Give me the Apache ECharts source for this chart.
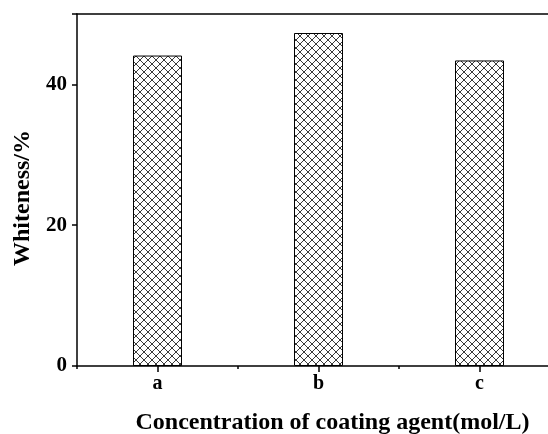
<!DOCTYPE html>
<html>
<head>
<meta charset="utf-8">
<style>
  html, body { margin: 0; padding: 0; background: #fff; }
  #chart { width: 548px; height: 434px; }
</style>
<script src="https://cdn.jsdelivr.net/npm/echarts@6/dist/echarts.min.js"></script>
</head>
<body>
<div id="chart"></div>
<script>
// Whiteness for each coating-agent concentration
const categories = ['a', 'b', 'c'];
const whiteness = [44.1, 47.3, 43.4];
const yTicks = [0, 20, 40];

// Cross-hatch tile used as the bar fill
function hatchTile() {
  const s = 8;
  const c = document.createElement('canvas');
  c.width = s; c.height = s;
  const g = c.getContext('2d');
  g.fillStyle = '#ffffff';
  g.fillRect(0, 0, s, s);
  g.strokeStyle = '#3a3a3a';
  g.lineWidth = 1;
  g.beginPath();
  g.moveTo(0, 0); g.lineTo(s, s);
  g.moveTo(s, 0); g.lineTo(0, s);
  g.stroke();
  return c;
}

const font = '"Liberation Serif", "Times New Roman", serif';
const chart = echarts.init(document.getElementById('chart'), null, { renderer: 'canvas' });

chart.setOption({
  animation: false,
  backgroundColor: '#ffffff',
  grid: { left: 77, top: 14, right: -12, bottom: 68, containLabel: false, outerBoundsMode: 'none' },
  xAxis: [{
    type: 'category',
    data: categories,
    position: 'bottom',
    axisLine: { lineStyle: { color: '#000', width: 1.5 } },
    axisTick: { show: true, alignWithLabel: true, length: 6, lineStyle: { color: '#000', width: 1.5 } },
    axisLabel: { color: '#000', fontFamily: font, fontWeight: 'bold', fontSize: 20, margin: 8 },
    name: 'Concentration of coating agent(mol/L)',
    nameLocation: 'middle',
    nameGap: 45,
    nameTextStyle: { color: '#000', fontFamily: font, fontWeight: 'bold', fontSize: 24, padding: [0, 0, 0, 28] }
  }, {
    // short ticks on the category boundaries
    type: 'category',
    data: categories,
    position: 'bottom',
    offset: 0,
    axisLine: { show: false },
    axisTick: { show: true, alignWithLabel: false, length: 3, lineStyle: { color: '#000', width: 1.5 } },
    axisLabel: { show: false }
  }, {
    type: 'category',
    data: categories,
    position: 'top',
    axisLine: { lineStyle: { color: '#000', width: 1.5 } },
    axisTick: { show: false },
    axisLabel: { show: false }
  }],
  yAxis: {
    type: 'value',
    min: 0,
    max: 50,
    interval: 20,
    axisLine: { show: true, lineStyle: { color: '#000', width: 1.5 } },
    axisTick: { show: true, length: 5, lineStyle: { color: '#000', width: 1.5 } },
    splitLine: { show: false },
    axisLabel: {
      color: '#000', fontFamily: font, fontWeight: 'bold', fontSize: 21, margin: 10,
      formatter: v => (yTicks.includes(v) ? String(v) : '')
    },
    name: 'Whiteness/%',
    nameLocation: 'middle',
    nameGap: 39,
    nameTextStyle: { color: '#000', fontFamily: font, fontWeight: 'bold', fontSize: 24, padding: [0, 16, 0, 0] }
  },
  series: [{
    type: 'bar',
    xAxisIndex: 0,
    data: whiteness,
    barWidth: 49,
    itemStyle: {
      color: { image: hatchTile(), repeat: 'repeat' },
      borderColor: '#000',
      borderWidth: 1
    }
  }]
});
</script>
</body>
</html>
